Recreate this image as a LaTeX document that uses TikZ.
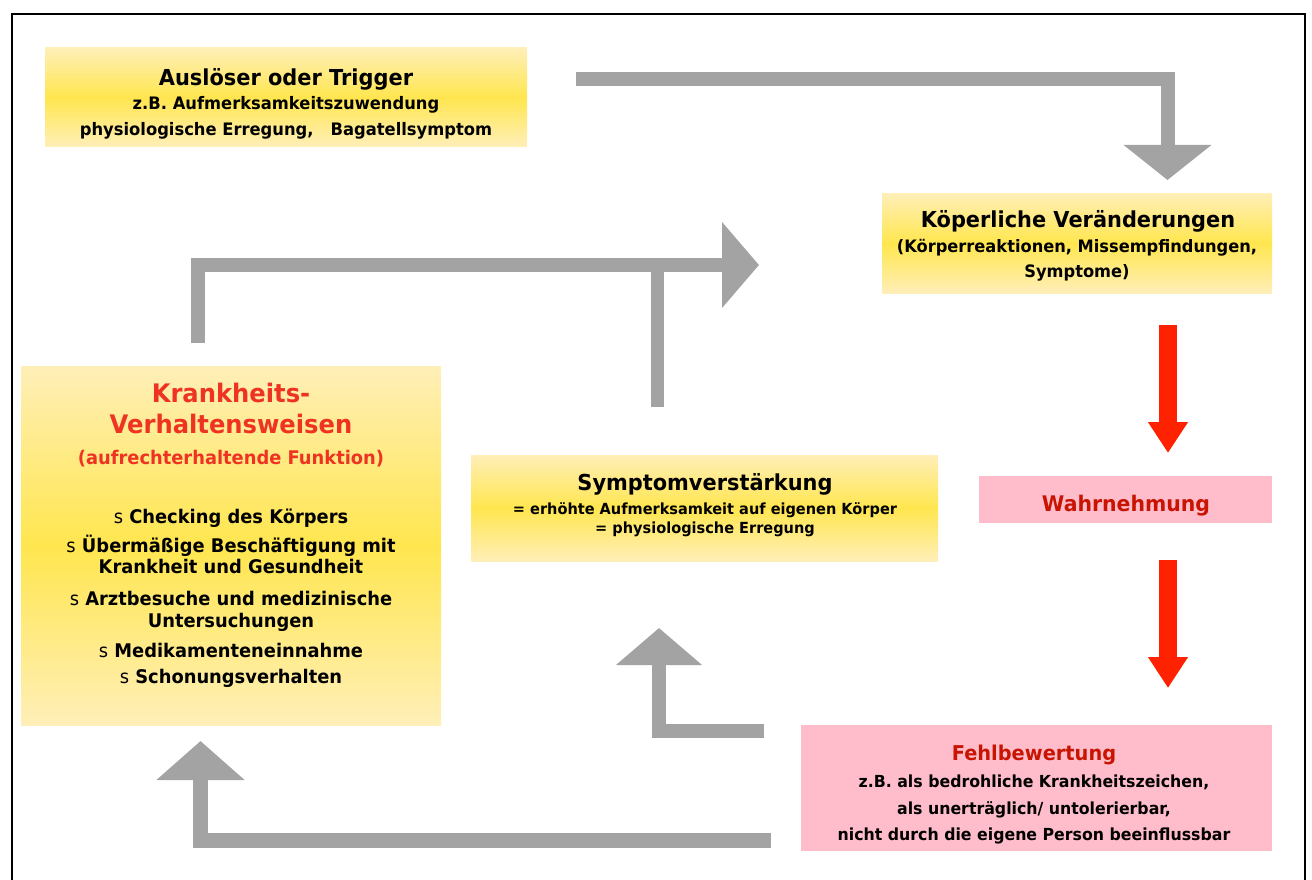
\documentclass[tikz,border=0pt]{standalone}
\usepackage{fontspec}
\setmainfont{DejaVu Sans}[FakeStretch=0.95]
\usetikzlibrary{arrows.meta}
\definecolor{ylight}{HTML}{FFEFB8}
\definecolor{ymid}{HTML}{FFE64F}
\definecolor{pinkbox}{HTML}{FFBDCC}
\definecolor{grayarrow}{HTML}{A3A3A3}
\definecolor{redarrow}{HTML}{FF2200}
\definecolor{titlered}{HTML}{EE3322}
\definecolor{darkred}{HTML}{C81400}
\begin{document}
\begin{tikzpicture}[x=1pt,y=-1pt,
  ybox/.style={anchor=north west, inner sep=0pt, outer sep=0pt, top color=ylight, bottom color=ylight, middle color=ymid},
  pbox/.style={anchor=north west, inner sep=0pt, outer sep=0pt, fill=pinkbox},
  txt/.style={anchor=base, inner sep=0pt, font=\bfseries\fontsize{#1}{#1}\selectfont},
  garrow/.style 2 args={draw=grayarrow, line width=14pt, line join=miter, -{Triangle[width=#1pt,length=#2pt]}},
  rarrow/.style={draw=redarrow, line width=18pt, -{Triangle[width=38pt,length=31pt]}},
  gbar/.style={draw=grayarrow, line width=14pt}
]
\useasboundingbox (0,0) rectangle (1312,880);
% frame
\draw[line width=2pt] (12,880) -- (12,14) -- (1305,14) -- (1305,880);

% boxes
\node[ybox, minimum width=482pt, minimum height=99pt] (trig) at (45,48) {};
\node[ybox, minimum width=390pt, minimum height=100pt] (koerp) at (882,193) {};
\node[ybox, minimum width=420pt, minimum height=359pt] (krank) at (21,366) {};
\node[ybox, minimum width=467pt, minimum height=106pt] (sympt) at (471,455) {};
\node[pbox, minimum width=293pt, minimum height=47pt] (wahr) at (979,476) {};
\node[pbox, minimum width=471pt, minimum height=126pt] (fehl) at (801,725) {};

% texts: trigger
\node[txt=22] (trigA) at (286,86) {Auslöser oder Trigger};
\node[txt=17.2] (trigB) at (286,110) {z.B. Aufmerksamkeitszuwendung};
\node[txt=17.2] (trigC) at (286,136) {physiologische Erregung,~~~Bagatellsymptom};

% koerperliche
\node[txt=22] (koerpA) at (1078,227) {Köperliche Veränderungen};
\node[txt=17.1] (koerpB) at (1077,252) {(Körperreaktionen, Missempfindungen,};
\node[txt=17.1] (koerpC) at (1077,277) {Symptome)};

% krankheits
\node[txt=25.5, text=titlered] (krankA) at (231,402) {Krankheits-};
\node[txt=25.5, text=titlered] (krankB) at (231,433) {Verhaltensweisen};
\node[txt=18.8, text=titlered] (krankC) at (231,464) {(aufrechterhaltende Funktion)};
\node[txt=18.8] (krankD) at (231,523) {{\mdseries s} Checking des Körpers};
\node[txt=18.8] (krankE) at (231,552) {{\mdseries s} Übermäßige Beschäftigung mit};
\node[txt=18.8] (krankF) at (231,573) {Krankheit und Gesundheit};
\node[txt=18.8] (krankG) at (231,605) {{\mdseries s} Arztbesuche und medizinische};
\node[txt=18.8] (krankH) at (231,627) {Untersuchungen};
\node[txt=18.8] (krankI) at (231,657) {{\mdseries s} Medikamenteneinnahme};
\node[txt=18.8] (krankJ) at (231,683) {{\mdseries s} Schonungsverhalten};

% symptomverstaerkung
\node[txt=22] (symptA) at (705,490) {Symptomverstärkung};
\node[txt=15.3] (symptB) at (705,514) {= erhöhte Aufmerksamkeit auf eigenen Körper};
\node[txt=15.3] (symptC) at (705,533) {= physiologische Erregung};

% wahrnehmung
\node[txt=21.5, text=darkred] (wahrA) at (1126,511) {Wahrnehmung};

% fehlbewertung
\node[txt=20.4, text=darkred] (fehlA) at (1034,760) {Fehlbewertung};
\node[txt=16.6] (fehlB) at (1034,787) {z.B. als bedrohliche Krankheitszeichen,};
\node[txt=16.6] (fehlC) at (1034,814) {als unerträglich/ untolerierbar,};
\node[txt=16.6] (fehlD) at (1034,840) {nicht durch die eigene Person beeinflussbar};

% arrow coordinates
\coordinate (a1s) at (576,79);
\coordinate (a1c) at (1167.5,79);
\coordinate (a1e) at (1167.5,180);
\coordinate (a2s) at (198,343);
\coordinate (a2c) at (198,265);
\coordinate (a2e) at (759,265);
\coordinate (a3s) at (657,407);
\coordinate (a3e) at (657,258);
\coordinate (a4s) at (771,840.5);
\coordinate (a4c) at (200.5,840.5);
\coordinate (a4e) at (200.5,741);
\coordinate (a5s) at (764,731);
\coordinate (a5c) at (659,731);
\coordinate (a5e) at (659,628);
\coordinate (r1s) at (1168,325);
\coordinate (r1e) at (1168,453);
\coordinate (r2s) at (1168,560);
\coordinate (r2e) at (1168,688);

% gray arrows
\draw[garrow={86}{35}] (a1s) -- (a1c) -- (a1e);
\draw[garrow={84}{37}] (a2s) -- (a2c) -- (a2e);
\draw[gbar, line width=13pt] (a3s) -- (a3e);
\draw[garrow={86}{39}, line width=15pt] (a4s) -- (a4c) -- (a4e);
\draw[garrow={84}{37}] (a5s) -- (a5c) -- (a5e);

% red arrows
\draw[rarrow] (r1s) -- (r1e);
\draw[rarrow] (r2s) -- (r2e);
\end{tikzpicture}
\end{document}
